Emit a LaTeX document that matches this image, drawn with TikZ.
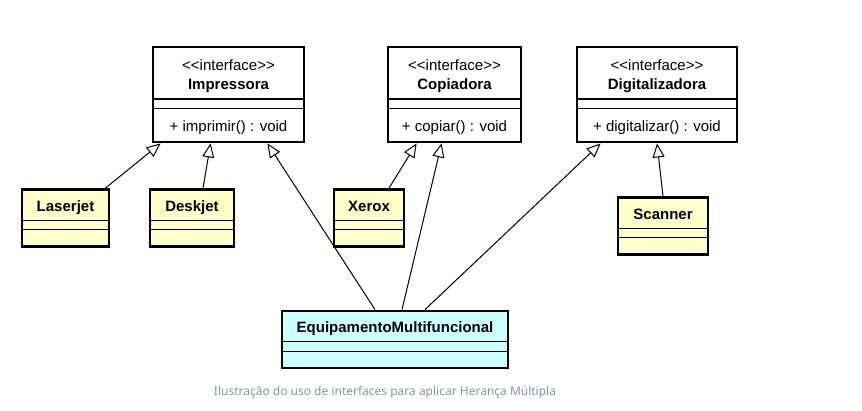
\documentclass[tikz,border=0pt]{standalone}
\usepackage{fontspec}
\setmainfont{Liberation Sans}[Ligatures=ResetAll]
\newfontfamily\capfont{Noto Sans}
\usetikzlibrary{arrows.meta}

\definecolor{classyellow}{HTML}{FFFFCC}
\definecolor{classcyan}{HTML}{CCFFFF}
\definecolor{capgray}{HTML}{8792A0}

\begin{document}
\begin{tikzpicture}[x=1pt, y=-1pt, font=\fontsize{15}{17}\selectfont]
\tikzstyle{iface}=[draw=black, line width=2.8pt, fill=white, inner sep=0pt, minimum width=151pt, minimum height=95pt]
\tikzstyle{cls}=[draw=black, line width=2.8pt, fill=classyellow, inner sep=0pt, minimum height=57pt]
\tikzstyle{txt}=[inner sep=0pt, anchor=base]
\tikzstyle{sep}=[line width=1.2pt]
\tikzstyle{gen}=[line width=1pt, -{Triangle[open, length=14pt, width=12pt, line width=1pt]}]

\useasboundingbox (0,0) rectangle (862,410);

% interfaces
\node[iface]                    (imp) at (228.5,94.5) {};
\node[iface, minimum width=133pt] (cop) at (454.5,94.5) {};
\node[iface, minimum width=160pt] (dig) at (657,94.5)   {};
\foreach \b/\n/\m in {imp/Impressora/imprimir, cop/Copiadora/copiar, dig/Digitalizadora/digitalizar}{
  \node[txt] (\b-st) at (\b.north |- 0,70)  {<\kern0pt<interface>\kern0pt>};
  \node[txt] (\b-nm) at (\b.north |- 0,89)  {\bfseries \n};
  \node[txt] (\b-op) at (\b.north |- 0,131) {+ \m() : void};
  \draw[sep] (\b.west |- 0,99)  -- (\b.east |- 0,99);
  \draw[sep] (\b.west |- 0,108.5) -- (\b.east |- 0,108.5);
}

% classes
\node[cls, minimum width=87pt]  (laser) at (65.5,218)  {};
\node[cls, minimum width=84pt]  (desk)  at (192,218)   {};
\node[cls, minimum width=70pt]  (xerox) at (369,218)   {};
\node[cls, minimum width=90pt]  (scan)  at (663,226)   {};
\node[cls, fill=classcyan, minimum width=226pt] (multi) at (395,339.5) {};
\foreach \b/\n in {laser/Laserjet, desk/Deskjet, xerox/Xerox, scan/Scanner, multi/EquipamentoMultifuncional}{
  \node[txt] (\b-nm) at ([yshift=-23pt]\b.north) {\bfseries \n};
  \draw[sep] ([yshift=-32pt]\b.north west) -- ([yshift=-32pt]\b.north east);
  \draw[sep] ([yshift=-41.5pt]\b.north west) -- ([yshift=-41.5pt]\b.north east);
}

% generalizations
\draw[gen] ([xshift=-5pt]laser.north east) -- ([xshift=9pt]imp.south west);
\draw[gen] ([xshift=11pt]desk.north)       -- ([xshift=59pt]imp.south west);
\draw[gen] ([xshift=-20pt]multi.north)     -- ([xshift=-38pt]imp.south east);
\draw[gen] ([xshift=20pt]xerox.north)      -- ([xshift=30pt]cop.south west);
\draw[gen] ([xshift=7pt]multi.north)       -- ([xshift=55pt]cop.south west);
\draw[gen] ([xshift=30pt]multi.north)      -- ([xshift=25pt]dig.south west);
\draw[gen] (scan.north)                    -- (dig.south);

\node[txt, text=capgray, font=\capfont\fontsize{12}{14}\selectfont] (caption) at (385,395) {Ilustração do uso de interfaces para aplicar Herança Múltipla};
\end{tikzpicture}
\end{document}
